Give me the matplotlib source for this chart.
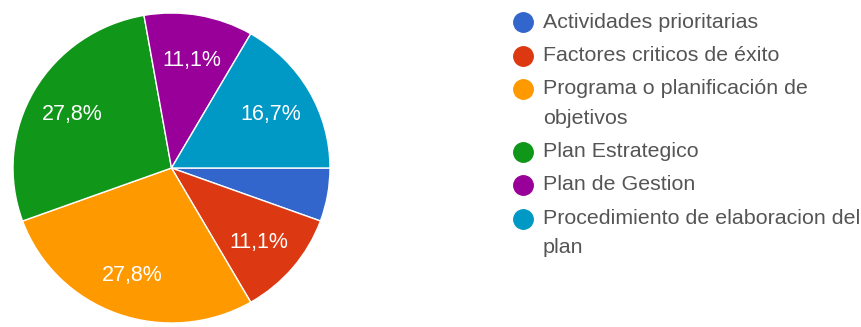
import matplotlib
matplotlib.use("Agg")
import matplotlib.pyplot as plt
from matplotlib.lines import Line2D

categories = [
    "Actividades prioritarias",
    "Factores criticos de éxito",
    "Programa o planificación de\nobjetivos",
    "Plan Estrategico",
    "Plan de Gestion",
    "Procedimiento de elaboracion del\nplan",
]
counts = [1, 2, 5, 5, 2, 3]
colors = ["#3366CC", "#DC3912", "#FF9900", "#109618", "#990099", "#0099C6"]

plt.rcParams["font.family"] = ["Liberation Sans", "DejaVu Sans"]

W, H = 861, 327
fig = plt.figure(figsize=(W / 100, H / 100), dpi=100)

# pie axes: centre (171.5, 168) px, radii 158.5 x 155 px
cx, cy, rx, ry = 171.5, 168, 158.5, 155
ax = fig.add_axes([(cx - rx) / W, (H - cy - ry) / H, 2 * rx / W, 2 * ry / H])


def pct_label(p):
    if p < 8:
        return ""
    return f"{p:.1f}%".replace(".", ",")


wedges, texts, autotexts = ax.pie(
    counts,
    colors=colors,
    startangle=0,
    counterclock=False,
    radius=1.0,
    autopct=pct_label,
    pctdistance=0.72,
    wedgeprops=dict(edgecolor="white", linewidth=1.0),
    textprops=dict(color="white", fontsize=15.5),
)
for t in autotexts:
    t.set_va("center_baseline")
ax.set_xlim(-1, 1)
ax.set_ylim(-1, 1)
ax.set_aspect("auto")
ax.axis("off")

# legend drawn as marker + text rows
x_dot, x_txt = 523, 543
y = 22
entry_step = 33.5
line_step = 29
for label, col in zip(categories, colors):
    lines = label.split("\n")
    fig.lines.append(
        Line2D([x_dot / W], [1 - y / H], marker="o", markersize=14,
               color=col, linestyle="none", transform=fig.transFigure)
    )
    for i, ln in enumerate(lines):
        fig.text(x_txt / W, 1 - (y + i * line_step) / H, ln, fontsize=15.4,
                 color="#555555", va="center", ha="left")
    y += entry_step + line_step * (len(lines) - 1)

fig.savefig("out.png", dpi=100, facecolor="white")
